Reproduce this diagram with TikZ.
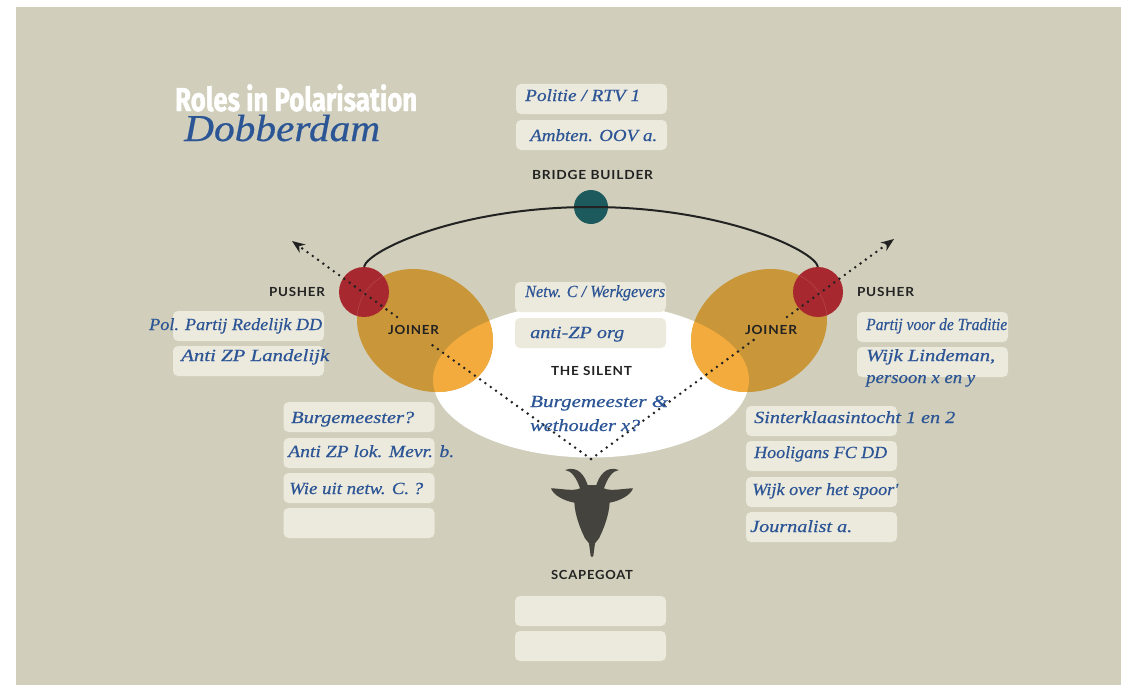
\documentclass[tikz,border=0pt]{standalone}
\usepackage{fontspec}
\usepackage{graphicx}
\usetikzlibrary{arrows.meta,shapes.geometric}
\newfontfamily\handfont[ItalicFont={Liberation Serif Italic},ItalicFeatures={FakeBold=0.5}]{Liberation Serif}
\newfontfamily\labfont[LetterSpace=6]{Lato}
\newfontfamily\headfont[BoldFeatures={FakeBold=1.5}]{Fira Sans}
\definecolor{bgc}{HTML}{D1CFBB}
\definecolor{slotc}{HTML}{ECE9DD}
\definecolor{inkc}{HTML}{2C5596}
\definecolor{joinc}{HTML}{C99639}
\definecolor{overc}{HTML}{F2AB3C}
\definecolor{redc}{HTML}{A8282F}
\definecolor{tealc}{HTML}{1D5A5E}
\definecolor{goatc}{HTML}{44433D}
\definecolor{darkc}{HTML}{222222}
\newcommand{\hw}[2]{\resizebox{#1pt}{\height}{\itshape #2}}
\newcommand{\lb}[2]{\resizebox{#1pt}{\height}{\bfseries #2}}
\tikzset{
  slot/.style={draw=none,fill=slotc,rounded corners=5pt,minimum width=151pt,minimum height=30pt,inner sep=0pt},
  hand/.style={anchor=base west,inner sep=0pt,text=inkc,font=\handfont\fontsize{17}{19}\selectfont},
  role/.style={inner sep=0pt,text=darkc,font=\labfont\fontsize{12.5}{14}\selectfont},
  blob/.style={ellipse,inner sep=0pt,minimum width=142pt,minimum height=116pt},
  dotline/.style={line width=2.8pt,line cap=round,dash pattern=on 0pt off 6.5pt,darkc},
}
\begin{document}
\begin{tikzpicture}[x=1pt,y=-1pt]
\useasboundingbox (0,0) rectangle (1122,685);
\fill[bgc] (16,7) rectangle (1121,685);
% blobs
\node[ellipse,fill=white,inner sep=0pt,minimum width=316pt,minimum height=155pt] (silent) at (591,380) {};
\node[blob,fill=joinc,rotate=-30] (joinL) at (425,330.5) {};
\node[blob,fill=joinc,rotate=30] (joinR) at (759,330.5) {};
\begin{scope}
\path[clip] (591,380) ellipse [x radius=158,y radius=77.5];
\node[blob,fill=overc,rotate=-30] (overL) at (425,330.5) {};
\node[blob,fill=overc,rotate=30] (overR) at (759,330.5) {};
\end{scope}
\node[circle,fill=redc,inner sep=0pt,minimum size=50pt] (redL) at (364,292) {};
\node[circle,fill=redc,inner sep=0pt,minimum size=50pt] (redR) at (818,292) {};
\begin{scope}
\path[clip] (364,292) circle [radius=25];
\node[blob,draw=redc!85!white,line width=.5pt,rotate=-30] (edgeL) at (425,330.5) {};
\end{scope}
\begin{scope}
\path[clip] (818,292) circle [radius=25];
\node[blob,draw=redc!85!white,line width=.5pt,rotate=30] (edgeR) at (759,330.5) {};
\end{scope}
\node[circle,fill=tealc,inner sep=0pt,minimum size=34pt] (bridge) at (591,207) {};
% slots
\node[slot] (s1) at (591.5,99) {};
\node[slot] (s2) at (591.5,135) {};
\node[slot] (s3) at (590.5,297) {};
\node[slot] (s4) at (590.5,333) {};
\node[slot] (s5) at (248.5,326) {};
\node[slot] (s6) at (248.5,361) {};
\node[slot] (s7) at (359,417) {};
\node[slot] (s8) at (359,453) {};
\node[slot] (s9) at (359,488) {};
\node[slot] (s10) at (359,523) {};
\node[slot] (s11) at (932.5,327) {};
\node[slot] (s12) at (932.5,362) {};
\node[slot] (s13) at (821.5,421) {};
\node[slot] (s14) at (821.5,456) {};
\node[slot] (s15) at (821.5,492) {};
\node[slot] (s16) at (821.5,527) {};
\node[slot] (s17) at (590.5,611) {};
\node[slot] (s18) at (590.5,646) {};
% connectors
\draw[line width=2pt,darkc] (redL.north) .. controls (368,250) and (460,207) .. (bridge.center)
  .. controls (722,207) and (814,250) .. (redR.north);
\coordinate (apex) at (591,459);
\coordinate (gapLa) at (428,342);
\coordinate (gapLb) at (397,317);
\coordinate (tipL) at (292,241);
\coordinate (gapRa) at (755,339);
\coordinate (gapRb) at (787,317);
\coordinate (tipR) at (894,239);
\draw[dotline] (apex) -- (gapLa);
\draw[dotline,-{Stealth[length=13pt,width=10pt]}] (gapLb) -- (tipL);
\draw[dotline] (apex) -- (gapRa);
\draw[dotline,-{Stealth[length=13pt,width=10pt]}] (gapRb) -- (tipR);
% goat
\path[fill=goatc,shift={(545,460)},x=0.3333pt,y=-0.3333pt]
  (141,75) -- (128,75)
  .. controls (120,50) and (100,15) .. (60,30)
  .. controls (80,32) and (95,55) .. (105,85)
  .. controls (85,95) and (45,85) .. (18,85)
  .. controls (25,105) and (55,122) .. (88,128)
  .. controls (90,165) and (105,205) .. (120,235)
  -- (132,250) -- (137,288) -- (141,291) -- (145,288) -- (150,250) -- (162,235)
  .. controls (177,205) and (192,165) .. (194,128)
  .. controls (227,122) and (257,105) .. (264,85)
  .. controls (237,85) and (197,95) .. (177,85)
  .. controls (187,55) and (202,32) .. (222,30)
  .. controls (182,15) and (162,50) .. (154,75) -- cycle;
% role labels
\node[role] (lb1) at (592.5,174.5) {\lb{121}{BRIDGE BUILDER}};
\node[role] (lb2) at (297,291.5) {\lb{56}{PUSHER}};
\node[role] (lb3) at (413.5,329.5) {\lb{51}{JOINER}};
\node[role] (lb4) at (885.5,291.5) {\lb{57}{PUSHER}};
\node[role] (lb5) at (771,329.5) {\lb{52}{JOINER}};
\node[role] (lb6) at (591.5,370.5) {\lb{81}{THE SILENT}};
\node[role] (lb7) at (592,574.5) {\lb{82}{SCAPEGOAT}};
% title
\node[anchor=base west,inner sep=0pt,text=white,font=\headfont\bfseries\fontsize{33}{36}\selectfont] (title) at (175,111) {\resizebox{242pt}{\height}{Roles in Polarisation}};
\node[hand,font=\handfont\fontsize{38}{40}\selectfont] (place) at (184,141) {\hw{196}{Dobberdam}};
% hand texts
\node[hand] (t1) at (525,101) {\hw{115}{Politie / RTV 1}};
\node[hand] (t2) at (530,141) {\hw{127}{Ambten. OOV a.}};
\node[hand] (t3) at (525,297) {\hw{140}{Netw. C / Werkgevers}};
\node[hand] (t4) at (530,338) {\hw{94}{anti-ZP org}};
\node[hand] (t5) at (149,330) {\hw{173}{Pol. Partij Redelijk DD}};
\node[hand] (t6) at (181,361) {\hw{148}{Anti ZP Landelijk}};
\node[hand] (t7) at (291,423) {\hw{123}{Burgemeester?}};
\node[hand] (t8) at (288,457) {\hw{166}{Anti ZP lok. Mevr. b.}};
\node[hand] (t9) at (289,494) {\hw{134}{Wie uit netw. C. ?}};
\node[hand] (t10) at (866,330) {\hw{141}{Partij voor de Traditie}};
\node[hand] (t11) at (866,361) {\hw{129}{Wijk Lindeman,}};
\node[hand] (t12) at (866,383) {\hw{109}{persoon x en y}};
\node[hand] (t13) at (530,407) {\hw{138}{Burgemeester \&}};
\node[hand] (t14) at (530,431) {\hw{110}{wethouder x?}};
\node[hand] (t15) at (754,423) {\hw{201}{Sinterklaasintocht 1 en 2}};
\node[hand] (t16) at (754,458) {\hw{133}{Hooligans FC DD}};
\node[hand] (t17) at (752,495) {\hw{146}{Wijk over het spoor'}};
\node[hand] (t18) at (750,532) {\hw{102}{Journalist a.}};
\end{tikzpicture}
\end{document}
